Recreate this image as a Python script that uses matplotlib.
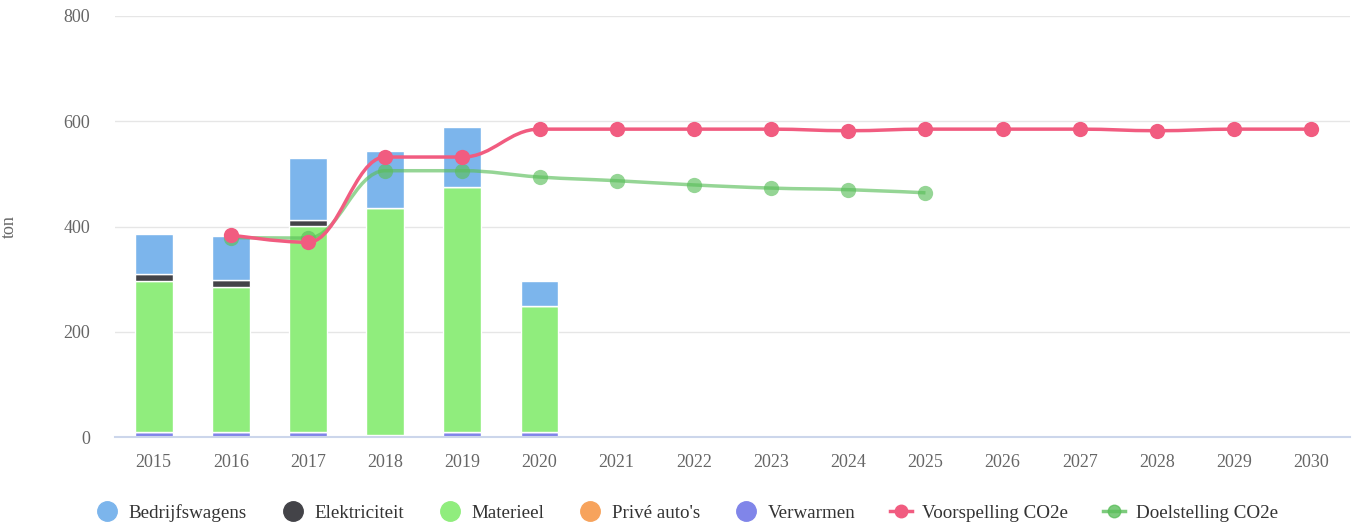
import numpy as np
import matplotlib.pyplot as plt
from matplotlib.path import Path
from matplotlib.patches import PathPatch
from matplotlib.lines import Line2D

plt.rcParams['font.family'] = ['Liberation Serif', 'DejaVu Serif']

years = [str(y) for y in range(2015, 2031)]
bar_years = ['2015', '2016', '2017', '2018', '2019', '2020']

# stacked bar values (ton), bottom to top
verwarmen = [9, 9, 9, 4, 9, 9]
prive_autos = [0, 0, 0, 0, 0, 0]
materieel = [288, 276, 392, 431, 467, 240]
elektriciteit = [12, 13, 11, 0, 0, 0]
bedrijfswagens = [76, 84, 119, 108, 113, 48]

# line series
voorspelling_years = years[1:]
voorspelling = [384, 370, 532, 532, 585, 585, 585, 585, 582, 585, 585, 585, 582, 585, 585]
doelstelling_years = years[1:11]
doelstelling = [379, 378, 506, 506, 494, 487, 479, 473, 470, 464]

c_bedr = '#7cb5ec'
c_elek = '#434348'
c_mat = '#90ed7d'
c_prive = '#f7a35c'
c_verw = '#8085e9'
c_voor = '#f15c80'
c_doel = '#5cbf5c'


def spline_path(xs, ys, smoothing=1.5):
    # Highcharts-like spline through the points, as cubic Bezier segments
    n = len(xs)
    lc = [(xs[i], ys[i]) for i in range(n)]
    rc = [(xs[i], ys[i]) for i in range(n)]
    d = smoothing + 1
    for i in range(1, n - 1):
        lx, ly = xs[i - 1], ys[i - 1]
        px, py = xs[i], ys[i]
        nx, ny = xs[i + 1], ys[i + 1]
        lcx = (smoothing * px + lx) / d
        lcy = (smoothing * py + ly) / d
        rcx = (smoothing * px + nx) / d
        rcy = (smoothing * py + ny) / d
        if rcx != lcx:
            corr = (rcy - lcy) * (rcx - px) / (rcx - lcx) + py - rcy
            lcy += corr
            rcy += corr
        if lcy > ly and lcy > py:
            lcy = max(ly, py)
            rcy = 2 * py - lcy
        elif lcy < ly and lcy < py:
            lcy = min(ly, py)
            rcy = 2 * py - lcy
        if rcy > ny and rcy > py:
            rcy = max(ny, py)
            lcy = 2 * py - rcy
        elif rcy < ny and rcy < py:
            rcy = min(ny, py)
            lcy = 2 * py - rcy
        lc[i] = (lcx, lcy)
        rc[i] = (rcx, rcy)
    verts = [(xs[0], ys[0])]
    codes = [Path.MOVETO]
    for i in range(1, n):
        verts += [rc[i - 1], lc[i], (xs[i], ys[i])]
        codes += [Path.CURVE4] * 3
    return Path(verts, codes)


fig = plt.figure(figsize=(13.56, 5.24), dpi=100)
ax = fig.add_axes([115 / 1356, 1 - 437 / 524, 1235 / 1356, 421 / 524])

x_all = np.arange(len(years))
xb = np.arange(len(bar_years))
w = 0.49
bottom = np.zeros(len(bar_years))
for vals, col in [(verwarmen, c_verw), (prive_autos, c_prive), (materieel, c_mat),
                  (elektriciteit, c_elek), (bedrijfswagens, c_bedr)]:
    v = np.array(vals, dtype=float)
    ax.bar(xb, v, w, bottom=bottom, color=col, edgecolor='white', linewidth=1, zorder=2)
    bottom += v

xv = np.array([years.index(y) for y in voorspelling_years], dtype=float)
xd = np.array([years.index(y) for y in doelstelling_years], dtype=float)

ax.add_patch(PathPatch(spline_path(xd, doelstelling), facecolor='none', edgecolor=c_doel,
                       linewidth=2.5, alpha=0.65, zorder=3))
ax.plot(xd, doelstelling, 'o', color=c_doel, markersize=11, alpha=0.65, zorder=3, markeredgewidth=0)
ax.add_patch(PathPatch(spline_path(xv, voorspelling), facecolor='none', edgecolor=c_voor,
                       linewidth=2.5, zorder=4))
ax.plot(xv, voorspelling, 'o', color=c_voor, markersize=11, zorder=4, markeredgewidth=0)

ax.set_xlim(-0.5, len(years) - 0.5)
ax.set_ylim(0, 800)
ax.set_yticks([0, 200, 400, 600, 800])
ax.set_xticks(x_all)
ax.set_xticklabels(years)
ax.grid(axis='y', color='#e6e6e6', linewidth=1, zorder=0)
ax.set_axisbelow(True)
for s in ['top', 'right', 'left']:
    ax.spines[s].set_visible(False)
ax.spines['bottom'].set_color('#ccd6eb')
ax.spines['bottom'].set_linewidth(1.5)
ax.tick_params(axis='both', length=0, labelsize=13, colors='#666666')
ax.tick_params(axis='x', pad=12)
ax.tick_params(axis='y', pad=18)
fig.text(9 / 1356, 1 - 227 / 524, 'ton', rotation=90, ha='center', va='center',
         fontsize=13, color='#666666')

handles = [
    Line2D([], [], marker='o', linestyle='none', color=c_bedr, markersize=14),
    Line2D([], [], marker='o', linestyle='none', color=c_elek, markersize=14),
    Line2D([], [], marker='o', linestyle='none', color=c_mat, markersize=14),
    Line2D([], [], marker='o', linestyle='none', color=c_prive, markersize=14),
    Line2D([], [], marker='o', linestyle='none', color=c_verw, markersize=14),
    Line2D([], [], marker='o', color=c_voor, linewidth=2.5, markersize=9),
    Line2D([], [], marker='o', color=c_doel, linewidth=2.5, markersize=9, alpha=0.8),
]
labels = ['Bedrijfswagens', 'Elektriciteit', 'Materieel', "Privé auto's", 'Verwarmen',
          'Voorspelling CO2e', 'Doelstelling CO2e']
fig.legend(handles, labels, loc='center', bbox_to_anchor=(0.5 + 9 / 1356, 1 - 513 / 524), ncol=7,
           frameon=False, fontsize=13.7, handlelength=1.17, columnspacing=1.82,
           handletextpad=0.55, labelcolor='#333333')

fig.savefig('out.png', dpi=100)
